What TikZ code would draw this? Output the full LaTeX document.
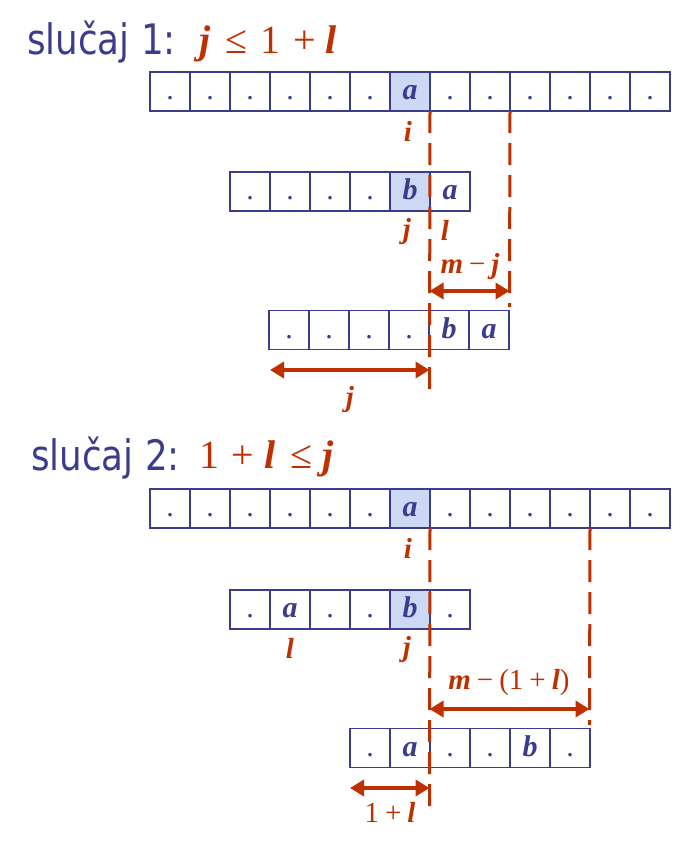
\documentclass[tikz,border=0pt]{standalone}
\usepackage{fontspec}
\setmainfont{Liberation Serif}
\newfontfamily\ttlfont{DejaVu Sans}
\usetikzlibrary{arrows.meta}
\definecolor{bluC}{RGB}{60,60,140}
\definecolor{redC}{RGB}{190,48,0}
\definecolor{shadeC}{RGB}{204,217,245}
\newcommand\V[1]{{\bfseries\itshape #1}}
\newcommand\sg{\hspace{6pt}}
\begin{document}
\begin{tikzpicture}[x=1pt,y=-1pt,
  cell/.style={draw=bluC,line width=1.8pt,minimum width=40pt,minimum height=39pt,
    inner sep=0pt,outer sep=0pt,text=bluC,text height=21pt,text depth=5pt,
    font=\fontsize{30}{32}\selectfont},
  ttl/.style={text=bluC,inner sep=0pt,font=\ttlfont\fontsize{42}{46}\selectfont},
  ttlmath/.style={text=redC,inner sep=0pt,font=\fontsize{40}{44}\selectfont},
  lbl/.style={text=redC,inner sep=0pt,font=\fontsize{29}{32}\selectfont},
  dline/.style={draw=redC,line width=3pt,dash pattern=on 22pt off 10pt},
  dimarrow/.style={draw=redC,line width=3.6pt,
    {Triangle[length=14pt,width=16pt]}-{Triangle[length=14pt,width=16pt]}}]
\useasboundingbox (0,0) rectangle (683,843);
% ---------- case 1 ----------
\node[ttl,anchor=base west] (t1) at (27,55) {\scalebox{0.85}[1]{slučaj 1:}};
\node[ttlmath,anchor=base west] (m1) at (199,53)
  {\V{j}\hspace{15pt}≤\hspace{13pt}1\hspace{13pt}+\hspace{10pt}\V{l}};
\foreach \t/\f [count=\k from 0] in {./white,./white,./white,./white,./white,./white,\V{a}/shadeC,./white,./white,./white,./white,./white,./white}
  \node[cell,fill=\f] (A\k) at (170+40*\k,91.5) {\t};
\foreach \t/\f [count=\k from 0] in {./white,./white,./white,./white,\V{b}/shadeC,\V{a}/white}
  \node[cell,fill=\f] (B\k) at (250+40*\k,191.5) {\t};
\foreach \t/\f [count=\k from 0] in {./white,./white,./white,./white,\V{b}/white,\V{a}/white}
  \node[cell,fill=\f] (C\k) at (289+40*\k,330) {\t};
\coordinate (d1end) at (429.5,390);
\coordinate (d2end) at (509.5,307);
\draw[dline] (A6.south east) -- (d1end);
\draw[dline] (A8.south east) -- (d2end);
\node[lbl] (li1) at (408,131) {\V{i}};
\node[lbl] (lj1) at (407,232) {\V{j}};
\node[lbl] (ll1) at (445,230) {\V{l}};
\coordinate (a1l) at (429.5,291);
\coordinate (a1r) at (509.5,291);
\draw[dimarrow] (a1l) -- (a1r);
\node[lbl] (lmj) at (470,267) {\V{m}\sg−\sg\V{j}};
\coordinate (a2l) at (270,370);
\coordinate (a2r) at (429.5,370);
\draw[dimarrow] (a2l) -- (a2r);
\node[lbl] (lj2) at (350,400) {\V{j}};
% ---------- case 2 ----------
\node[ttl,anchor=base west] (t2) at (31,470) {\scalebox{0.85}[1]{slučaj 2:}};
\node[ttlmath,anchor=base west] (m2) at (199,468)
  {1\hspace{12pt}+\hspace{11pt}\V{l}\hspace{15pt}≤\hspace{10pt}\V{j}};
\foreach \t/\f [count=\k from 0] in {./white,./white,./white,./white,./white,./white,\V{a}/shadeC,./white,./white,./white,./white,./white,./white}
  \node[cell,fill=\f] (D\k) at (170+40*\k,508.5) {\t};
\foreach \t/\f [count=\k from 0] in {./white,\V{a}/white,./white,./white,\V{b}/shadeC,./white}
  \node[cell,fill=\f] (E\k) at (250+40*\k,609.5) {\t};
\foreach \t/\f [count=\k from 0] in {./white,\V{a}/white,./white,./white,\V{b}/white,./white}
  \node[cell,fill=\f] (F\k) at (370+40*\k,748) {\t};
\coordinate (d3end) at (429.5,810);
\coordinate (d4end) at (589.5,725);
\draw[dline] (D6.south east) -- (d3end);
\draw[dline] (D10.south east) -- (d4end);
\node[lbl] (li2) at (408,548) {\V{i}};
\node[lbl] (ll2) at (290,648) {\V{l}};
\node[lbl] (lj3) at (407,650) {\V{j}};
\coordinate (a3l) at (429.5,709);
\coordinate (a3r) at (589.5,709);
\draw[dimarrow] (a3l) -- (a3r);
\node[lbl] (lm1l) at (509,683) {\V{m}\sg−\sg(1\sg+\sg\V{l})};
\coordinate (a4l) at (350,788);
\coordinate (a4r) at (429.5,788);
\draw[dimarrow] (a4l) -- (a4r);
\node[lbl] (l1l) at (390,812) {1\sg+\sg\V{l}};
\end{tikzpicture}
\end{document}
